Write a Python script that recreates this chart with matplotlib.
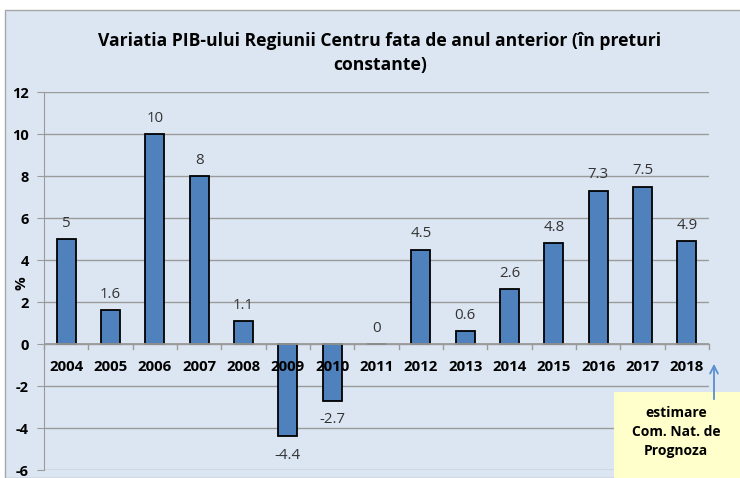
import matplotlib as mpl
mpl.use('Agg')
import matplotlib.pyplot as plt
from matplotlib.patches import Rectangle

years = ['2004', '2005', '2006', '2007', '2008', '2009', '2010', '2011',
         '2012', '2013', '2014', '2015', '2016', '2017', '2018']
values = [5, 1.6, 10, 8, 1.1, -4.4, -2.7, 0, 4.5, 0.6, 2.6, 4.8, 7.3, 7.5, 4.9]
value_labels = ['5', '1.6', '10', '8', '1.1', '-4.4', '-2.7', '0', '4.5', '0.6',
                '2.6', '4.8', '7.3', '7.5', '4.9']
yticks = [-6, -4, -2, 0, 2, 4, 6, 8, 10, 12]

plt.rcParams['font.family'] = ['Open Sans', 'DejaVu Sans']
bg = '#DCE6F2'
grid_c = '#9A9A9A'

fig = plt.figure(figsize=(7.4, 4.78), dpi=100)
fig.patch.set_facecolor('white')
# chart area background
fig.patches.append(Rectangle((5/740, 0), 1, 468/478, transform=fig.transFigure,
                             facecolor=bg, edgecolor='#A6A6A6', lw=1, zorder=-1))

ax = fig.add_axes([44/740, 8/478, 665/740, 378/478])
ax.set_zorder(1)
ax.set_facecolor(bg)
ax.set_xlim(-0.5, len(years) - 0.5)
ax.set_ylim(-6, 12)

ax.bar(range(len(years)), values, width=0.43, color='#4F81BD',
       edgecolor='black', lw=1.3, zorder=3)

ax.set_yticks(yticks)
ax.set_yticklabels([str(t) for t in yticks], fontweight='bold', fontsize=10.5)
ax.yaxis.grid(True, color=grid_c, lw=1)
ax.set_axisbelow(True)
ax.tick_params(axis='y', length=5, color=grid_c, pad=6)
ax.set_xticks([])
for s in ['top', 'right', 'bottom']:
    ax.spines[s].set_visible(False)
ax.spines['left'].set_color(grid_c)

# category axis at zero
ax.axhline(0, color=grid_c, lw=1.3, zorder=3.5)
for i in range(len(years) + 1):
    ax.plot([i - 0.5, i - 0.5], [0, -0.25], color=grid_c, lw=1, zorder=2, clip_on=False)
for i, y in enumerate(years):
    ax.text(i, -1.1, y, ha='center', va='center', fontweight='bold', fontsize=10.8, zorder=4)

for i, (v, lab) in enumerate(zip(values, value_labels)):
    if v >= 0:
        ax.annotate(lab, (i, v), xytext=(0, 6), textcoords='offset points',
                    ha='center', va='bottom', fontsize=10.8, color='#333333', zorder=4)
    else:
        ax.annotate(lab, (i, v), xytext=(0, -8), textcoords='offset points',
                    ha='center', va='top', fontsize=10.8, color='#333333', zorder=4)

fig.text(22/740, 1 - 283/478, '%', rotation=90, ha='center', va='center',
         fontweight='bold', fontsize=11)

fig.text(380/740, 1 - 53/478, 'Variatia PIB-ului Regiunii Centru fata de anul anterior (în preturi\nconstante)',
         ha='center', va='center', fontweight='bold', fontsize=12.6, linespacing=1.45)

# note box
note_ax = fig.add_axes([0, 0, 1, 1], facecolor='none')
note_ax.set_zorder(2)
note_ax.set_xlim(0, 740)
note_ax.set_ylim(478, 0)
note_ax.axis('off')
note_ax.add_patch(Rectangle((614, 392), 126, 86, facecolor='#FFFFCC', edgecolor='none'))
note_ax.text(676, 432, 'estimare\nCom. Nat. de\nPrognoza', ha='center', va='center',
             fontweight='bold', fontsize=10, linespacing=1.45)
note_ax.annotate('', xy=(714, 361), xytext=(714, 402),
                 arrowprops=dict(arrowstyle='->', color='#5B8FD0', lw=1.3, mutation_scale=14))

fig.savefig('out.png', dpi=100)
